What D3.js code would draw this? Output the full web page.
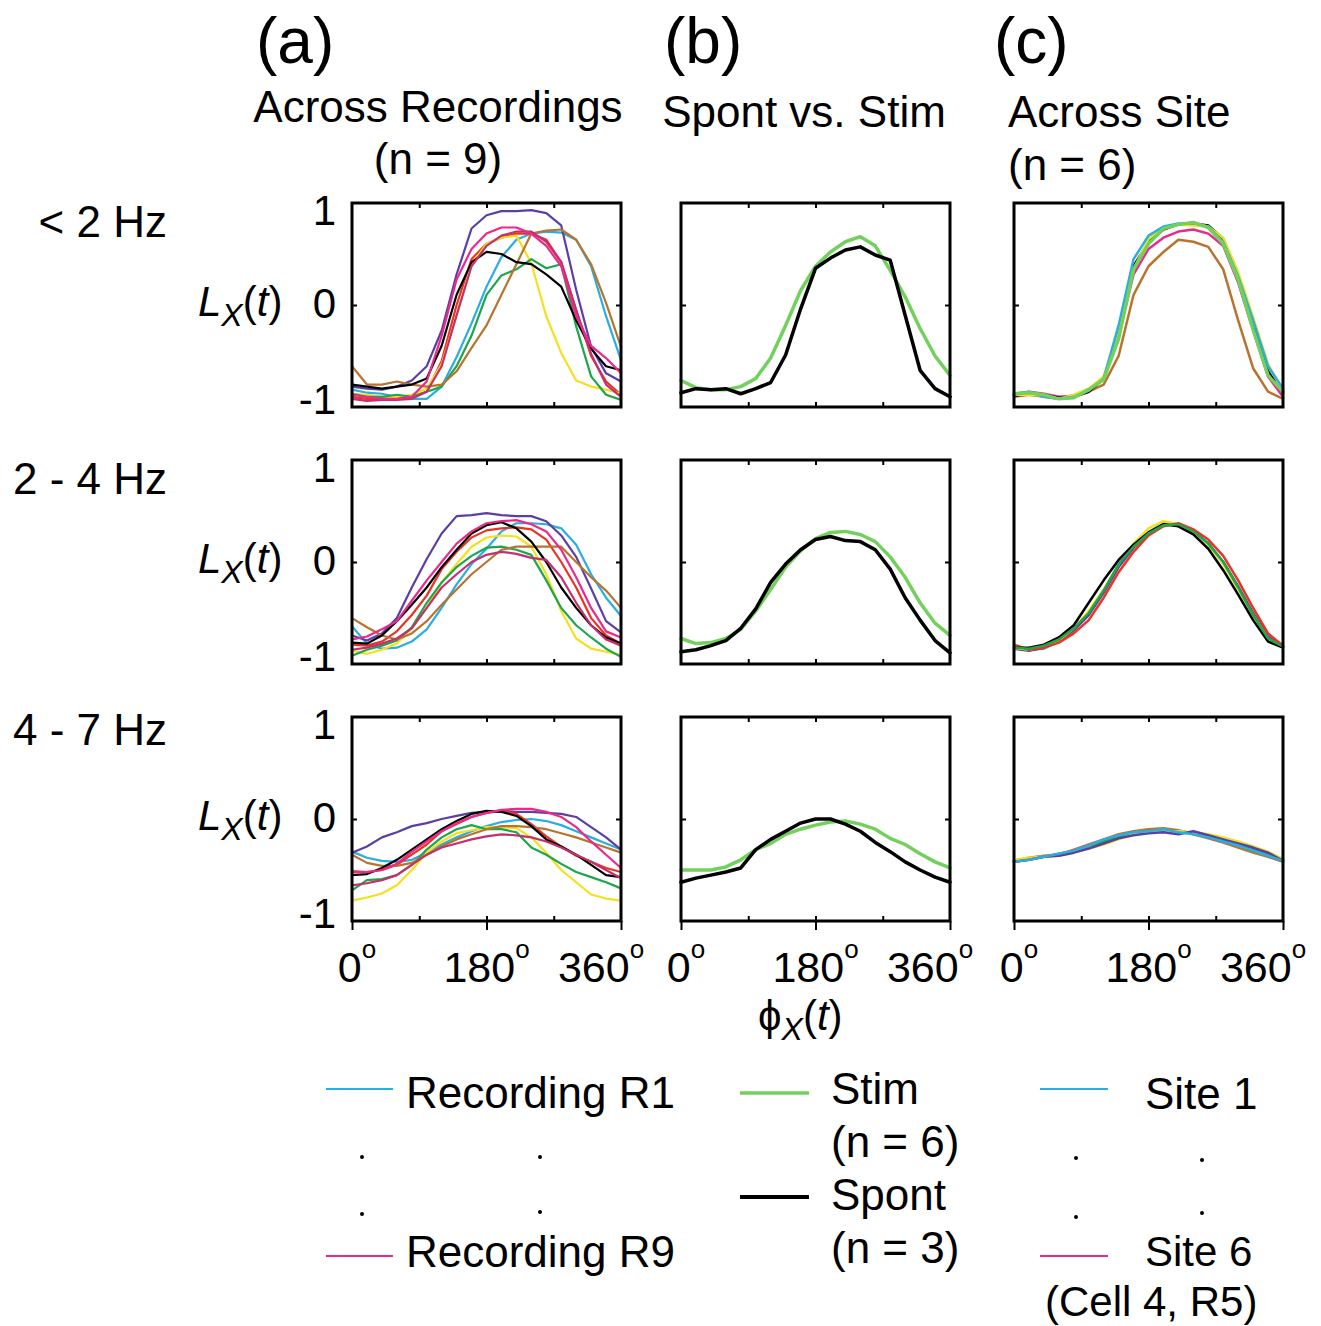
<!DOCTYPE html>
<html lang="en">
<head>
<meta charset="UTF-8">
<title>Phase locking curves</title>
<script src="https://d3js.org/d3.v7.min.js"></script>
<style>
  body { margin: 0; background: #fff; }
  svg { font-family: "Liberation Sans", Arial, Helvetica, sans-serif; }
  .trace { fill: none; stroke-linejoin: round; stroke-linecap: round; }
  .box { fill: none; stroke: #000; stroke-width: 3; }
  .tick line { stroke: #000; stroke-width: 2; }
  .domain { display: none; }
</style>
</head>
<body>
<svg width="1321" height="1326"></svg>
<script>
// phase samples (degrees)
const phase = [0,20,40,60,80,100,120,140,160,180,200,220,240,260,280,300,320,340,360];

const rowLabels = ["< 2 Hz", "2 - 4 Hz", "4 - 7 Hz"];
const colLetters = ["(a)", "(b)", "(c)"];
const xTickLabels = [0, 180, 360];
const yTickLabels = [1, 0, -1];

// (a) across recordings: R1..R9
const recColors = ["#29aee2", "#5a3fa6", "#eb3325", "#f6df1d", "#1da64b", "#b8742e", "#000000", "#c4306f", "#ea2a8b"];
const recA1 = [
  [-0.83,-0.86,-0.87,-0.90,-0.92,-0.92,-0.80,-0.51,-0.18,0.18,0.47,0.64,0.70,0.72,0.71,0.64,0.38,-0.11,-0.54],
  [-0.80,-0.82,-0.83,-0.80,-0.74,-0.60,-0.25,0.30,0.75,0.88,0.92,0.92,0.93,0.90,0.78,0.15,-0.41,-0.67,-0.75],
  [-0.90,-0.92,-0.93,-0.92,-0.90,-0.85,-0.55,0.00,0.45,0.60,0.66,0.70,0.70,0.64,0.42,-0.05,-0.50,-0.75,-0.88],
  [-0.87,-0.88,-0.90,-0.90,-0.88,-0.82,-0.58,-0.10,0.40,0.60,0.66,0.68,0.41,-0.11,-0.47,-0.74,-0.80,-0.83,-0.87],
  [-0.87,-0.90,-0.90,-0.88,-0.90,-0.85,-0.80,-0.60,-0.30,0.10,0.29,0.35,0.45,0.36,0.40,-0.21,-0.70,-0.88,-0.93],
  [-0.60,-0.78,-0.78,-0.75,-0.78,-0.80,-0.78,-0.65,-0.42,-0.20,0.10,0.40,0.70,0.73,0.74,0.64,0.40,0.02,-0.41],
  [-0.78,-0.80,-0.82,-0.80,-0.78,-0.72,-0.40,0.10,0.42,0.52,0.50,0.42,0.40,0.30,0.18,-0.15,-0.43,-0.60,-0.64],
  [-0.92,-0.94,-0.93,-0.93,-0.92,-0.85,-0.60,-0.10,0.38,0.58,0.68,0.72,0.72,0.62,0.42,-0.05,-0.48,-0.78,-0.90],
  [-0.88,-0.90,-0.92,-0.92,-0.90,-0.75,-0.30,0.25,0.55,0.70,0.76,0.76,0.70,0.58,0.38,-0.11,-0.40,-0.52,-0.67]
];
const recA2 = [
  [-0.63,-0.80,-0.85,-0.84,-0.78,-0.66,-0.45,-0.22,-0.02,0.13,0.30,0.38,0.38,0.37,0.33,0.17,-0.12,-0.35,-0.53],
  [-0.72,-0.77,-0.70,-0.55,-0.25,0.03,0.28,0.45,0.46,0.48,0.46,0.45,0.45,0.40,0.26,0.05,-0.26,-0.58,-0.69],
  [-0.81,-0.82,-0.78,-0.68,-0.52,-0.33,-0.07,0.10,0.24,0.31,0.33,0.34,0.32,0.22,0.00,-0.25,-0.55,-0.72,-0.80],
  [-0.87,-0.90,-0.86,-0.80,-0.65,-0.45,-0.20,-0.02,0.15,0.24,0.26,0.25,0.15,-0.12,-0.48,-0.75,-0.85,-0.88,-0.91],
  [-0.92,-0.86,-0.82,-0.77,-0.64,-0.40,-0.20,-0.05,0.06,0.14,0.15,0.12,0.07,-0.18,-0.45,-0.62,-0.74,-0.85,-0.93],
  [-0.55,-0.64,-0.72,-0.76,-0.70,-0.58,-0.42,-0.27,-0.12,0.00,0.12,0.15,0.15,0.15,0.15,0.00,-0.15,-0.28,-0.45],
  [-0.79,-0.80,-0.72,-0.58,-0.42,-0.25,-0.05,0.12,0.28,0.36,0.39,0.33,0.20,0.00,-0.25,-0.45,-0.62,-0.74,-0.80],
  [-0.86,-0.84,-0.80,-0.75,-0.65,-0.45,-0.25,-0.12,0.00,0.07,0.10,0.08,0.04,0.02,-0.15,-0.40,-0.62,-0.76,-0.82],
  [-0.76,-0.73,-0.66,-0.58,-0.38,-0.18,0.00,0.18,0.30,0.38,0.40,0.41,0.37,0.30,0.12,-0.15,-0.45,-0.68,-0.74]
];
const recA3 = [
  [-0.32,-0.38,-0.41,-0.42,-0.40,-0.33,-0.25,-0.18,-0.12,-0.07,-0.03,-0.01,0.00,-0.02,-0.06,-0.12,-0.18,-0.24,-0.30],
  [-0.33,-0.27,-0.18,-0.13,-0.07,-0.04,0.00,0.03,0.06,0.07,0.08,0.07,0.07,0.06,0.05,0.02,-0.08,-0.18,-0.30],
  [-0.51,-0.52,-0.50,-0.45,-0.35,-0.25,-0.12,-0.05,0.02,0.06,0.08,0.05,-0.05,-0.17,-0.27,-0.36,-0.42,-0.48,-0.52],
  [-0.80,-0.77,-0.73,-0.65,-0.50,-0.33,-0.22,-0.14,-0.11,-0.08,-0.08,-0.09,-0.18,-0.33,-0.50,-0.62,-0.74,-0.78,-0.80],
  [-0.70,-0.60,-0.59,-0.55,-0.45,-0.30,-0.18,-0.10,-0.06,-0.10,-0.10,-0.13,-0.28,-0.35,-0.44,-0.52,-0.57,-0.62,-0.68],
  [-0.35,-0.43,-0.46,-0.46,-0.43,-0.35,-0.27,-0.20,-0.15,-0.10,-0.07,-0.07,-0.08,-0.10,-0.14,-0.18,-0.23,-0.28,-0.33],
  [-0.55,-0.54,-0.48,-0.40,-0.30,-0.20,-0.10,-0.02,0.05,0.08,0.07,0.03,-0.07,-0.20,-0.27,-0.35,-0.45,-0.55,-0.57],
  [-0.65,-0.63,-0.60,-0.55,-0.45,-0.35,-0.28,-0.24,-0.20,-0.17,-0.15,-0.16,-0.18,-0.22,-0.28,-0.35,-0.42,-0.50,-0.58],
  [-0.52,-0.52,-0.50,-0.44,-0.32,-0.22,-0.12,-0.04,0.02,0.06,0.09,0.10,0.10,0.07,0.02,-0.08,-0.22,-0.35,-0.48]
];

// (b) spontaneous vs stimulated: Stim, Spont
const condColors = ["#72d05d", "#000000"];
const condB1 = [
  [-0.74,-0.81,-0.83,-0.83,-0.80,-0.72,-0.52,-0.20,0.14,0.38,0.52,0.62,0.67,0.58,0.34,0.08,-0.23,-0.50,-0.69],
  [-0.86,-0.82,-0.83,-0.82,-0.87,-0.82,-0.76,-0.49,-0.04,0.36,0.46,0.54,0.57,0.49,0.44,-0.10,-0.64,-0.82,-0.90]
];
const condB2 = [
  [-0.75,-0.80,-0.79,-0.75,-0.66,-0.48,-0.27,-0.05,0.11,0.23,0.29,0.30,0.27,0.20,0.05,-0.15,-0.40,-0.60,-0.72],
  [-0.88,-0.86,-0.82,-0.77,-0.65,-0.46,-0.20,-0.02,0.12,0.22,0.25,0.21,0.20,0.12,-0.07,-0.35,-0.57,-0.77,-0.89]
];
const condB3 = [
  [-0.50,-0.50,-0.50,-0.47,-0.40,-0.30,-0.24,-0.15,-0.10,-0.06,-0.03,-0.02,-0.05,-0.10,-0.19,-0.25,-0.34,-0.42,-0.48],
  [-0.62,-0.58,-0.55,-0.52,-0.48,-0.30,-0.20,-0.12,-0.04,0.00,0.00,-0.05,-0.12,-0.23,-0.32,-0.42,-0.50,-0.57,-0.62]
];

// (c) across sites (drawing order bottom -> top)
const siteColors1 = ["#b8742e", "#ea2a8b", "#000000", "#f6df1d", "#29aee2", "#72d05d"];
const siteC1 = [
  [-0.90,-0.88,-0.90,-0.92,-0.90,-0.85,-0.78,-0.50,0.10,0.38,0.52,0.64,0.62,0.57,0.35,-0.15,-0.62,-0.85,-0.92],
  [-0.87,-0.85,-0.87,-0.90,-0.89,-0.84,-0.73,-0.30,0.30,0.55,0.66,0.72,0.74,0.70,0.58,0.22,-0.25,-0.70,-0.90],
  [-0.89,-0.87,-0.88,-0.91,-0.90,-0.85,-0.72,-0.28,0.38,0.62,0.74,0.79,0.80,0.78,0.65,0.28,-0.20,-0.65,-0.86],
  [-0.88,-0.88,-0.89,-0.92,-0.88,-0.82,-0.70,-0.28,0.35,0.65,0.76,0.79,0.78,0.77,0.66,0.32,-0.12,-0.58,-0.85],
  [-0.88,-0.85,-0.90,-0.92,-0.90,-0.84,-0.72,-0.20,0.45,0.68,0.77,0.80,0.80,0.77,0.62,0.28,-0.15,-0.60,-0.82],
  [-0.87,-0.86,-0.88,-0.92,-0.91,-0.83,-0.73,-0.33,0.35,0.60,0.75,0.79,0.81,0.76,0.60,0.25,-0.24,-0.69,-0.85]
];
const siteColors2 = ["#29aee2", "#5a3fa6", "#f6df1d", "#eb3325", "#000000", "#1da64b"];
const siteC2 = [
  [-0.84,-0.86,-0.85,-0.78,-0.66,-0.50,-0.29,-0.04,0.14,0.29,0.38,0.36,0.31,0.18,0.00,-0.25,-0.51,-0.74,-0.83],
  [-0.85,-0.87,-0.84,-0.78,-0.67,-0.52,-0.30,-0.05,0.14,0.28,0.37,0.37,0.30,0.18,0.00,-0.24,-0.50,-0.73,-0.83],
  [-0.84,-0.86,-0.83,-0.77,-0.65,-0.48,-0.27,-0.02,0.18,0.33,0.40,0.37,0.30,0.17,-0.02,-0.27,-0.52,-0.75,-0.84],
  [-0.81,-0.86,-0.84,-0.79,-0.70,-0.57,-0.35,-0.10,0.10,0.26,0.35,0.38,0.32,0.22,0.06,-0.18,-0.45,-0.70,-0.82],
  [-0.84,-0.84,-0.81,-0.74,-0.62,-0.40,-0.18,0.02,0.17,0.29,0.37,0.35,0.27,0.13,-0.08,-0.32,-0.57,-0.78,-0.84],
  [-0.84,-0.85,-0.82,-0.76,-0.65,-0.50,-0.28,-0.02,0.15,0.28,0.36,0.37,0.30,0.18,0.00,-0.25,-0.52,-0.75,-0.83]
];
const siteColors3 = ["#ea2a8b", "#1da64b", "#b8742e", "#f6df1d", "#5a3fa6", "#29aee2"];
const siteC3 = [
  [-0.42,-0.40,-0.37,-0.35,-0.32,-0.27,-0.22,-0.17,-0.14,-0.12,-0.11,-0.12,-0.14,-0.17,-0.21,-0.25,-0.30,-0.36,-0.41],
  [-0.41,-0.39,-0.37,-0.34,-0.31,-0.27,-0.22,-0.18,-0.14,-0.12,-0.11,-0.12,-0.14,-0.17,-0.21,-0.25,-0.30,-0.35,-0.40],
  [-0.41,-0.38,-0.36,-0.35,-0.30,-0.25,-0.20,-0.15,-0.12,-0.10,-0.09,-0.11,-0.15,-0.19,-0.23,-0.28,-0.33,-0.37,-0.42],
  [-0.40,-0.38,-0.37,-0.36,-0.33,-0.29,-0.25,-0.20,-0.15,-0.13,-0.12,-0.12,-0.13,-0.15,-0.18,-0.22,-0.27,-0.32,-0.39],
  [-0.42,-0.40,-0.37,-0.36,-0.33,-0.29,-0.24,-0.19,-0.16,-0.14,-0.13,-0.15,-0.12,-0.16,-0.20,-0.24,-0.28,-0.33,-0.41],
  [-0.42,-0.40,-0.37,-0.34,-0.31,-0.26,-0.20,-0.16,-0.13,-0.12,-0.10,-0.13,-0.15,-0.18,-0.22,-0.26,-0.31,-0.36,-0.41]
];

const panels = [
  [ {series: recA1, colors: recColors, width: 2.2},
    {series: recA2, colors: recColors, width: 2.2},
    {series: recA3, colors: recColors, width: 2.2} ],
  [ {series: condB1, colors: condColors, width: 3.5},
    {series: condB2, colors: condColors, width: 3.5},
    {series: condB3, colors: condColors, width: 3.5} ],
  [ {series: siteC1, colors: siteColors1, width: 2.5},
    {series: siteC2, colors: siteColors2, width: 2.5},
    {series: siteC3, colors: siteColors3, width: 2.5} ]
];

const svg = d3.select("svg");
const colX = [352, 681, 1014], rowY = [203, 460, 717];
const W = 269, H = 204;

const x = d3.scaleLinear().domain([0, 360]).range([0, W]);
const y = d3.scaleLinear().domain([-1, 1]).range([H, 0]);
const line = d3.line().x((d, i) => x(phase[i])).y(d => y(d));

panels.forEach((col, c) => {
  col.forEach((p, r) => {
    const g = svg.append("g").attr("transform", `translate(${colX[c]},${rowY[r]})`);

    g.selectAll("path.trace")
      .data(p.series)
      .join("path")
      .attr("class", "trace")
      .attr("d", line)
      .attr("stroke", (d, i) => p.colors[i])
      .attr("stroke-width", (d, i) => (c === 2 && r === 0 && i === 5) ? 3.5 : p.width);

    // inner ticks on all four sides
    g.append("g").attr("transform", `translate(0,${H})`)
      .call(d3.axisBottom(x).tickValues([90, 180, 270]).tickSize(-5).tickFormat(""));
    g.append("g")
      .call(d3.axisTop(x).tickValues([90, 180, 270]).tickSize(-5).tickFormat(""));
    g.append("g")
      .call(d3.axisLeft(y).tickValues([0]).tickSize(-5).tickFormat(""));
    g.append("g").attr("transform", `translate(${W},0)`)
      .call(d3.axisRight(y).tickValues([0]).tickSize(-5).tickFormat(""));

    g.append("rect").attr("class", "box").attr("width", W).attr("height", H);

    if (r === 2) {
      g.append("g").attr("transform", `translate(0,${H})`)
        .call(d3.axisBottom(x).tickValues(xTickLabels).tickSize(9).tickFormat(""));
      const shift = {0: 5, 180: 0, 360: -20};
      const t = g.selectAll("text.xl")
        .data(xTickLabels)
        .join("text")
        .attr("class", "xl")
        .attr("x", d => x(d) + shift[d])
        .attr("y", H + 61)
        .attr("text-anchor", "middle")
        .attr("font-size", 43)
        .text(d => d);
      t.append("tspan").attr("font-size", 26).attr("dy", -24).text("o");
    }

    if (c === 0) {
      const off = {"1": 22, "0": 13, "-1": 7};
      g.selectAll("text.yl")
        .data(yTickLabels)
        .join("text")
        .attr("class", "yl")
        .attr("x", -16)
        .attr("y", d => y(d) + off[d])
        .attr("text-anchor", "end")
        .attr("font-size", 42)
        .text(d => d);

      const lx = g.append("text")
        .attr("x", -154)
        .attr("y", y(0) + 11)
        .attr("font-size", 42);
      lx.append("tspan").attr("font-style", "italic").text("L");
      lx.append("tspan").attr("font-style", "italic").attr("font-size", 32).attr("dy", 10).text("X");
      lx.append("tspan").attr("dy", -10).text("(");
      lx.append("tspan").attr("font-style", "italic").text("t");
      lx.append("tspan").text(")");

      svg.append("text")
        .attr("x", 167)
        .attr("y", rowY[r] + (r === 2 ? 28 : 34))
        .attr("text-anchor", "end")
        .attr("font-size", 44)
        .text(rowLabels[r]);
    }
  });
});

// column headers
const letterX = [256, 664, 994];
colLetters.forEach((t, i) => {
  svg.append("text").attr("x", letterX[i]).attr("y", 63).attr("font-size", 64).text(t);
});
const hdr = [
  {t: "Across Recordings", x: 438, y: 122, a: "middle"},
  {t: "(n = 9)", x: 438, y: 174, a: "middle"},
  {t: "Spont vs. Stim", x: 804, y: 127, a: "middle"},
  {t: "Across Site", x: 1008, y: 127, a: "start"},
  {t: "(n = 6)", x: 1008, y: 180, a: "start"}
];
svg.selectAll("text.hdr").data(hdr).join("text")
  .attr("class", "hdr")
  .attr("x", d => d.x).attr("y", d => d.y)
  .attr("text-anchor", d => d.a)
  .attr("font-size", 44)
  .text(d => d.t);

// x axis label
const phi = svg.append("text").attr("x", 758).attr("y", 1030).attr("font-size", 42);
phi.append("tspan").text("ϕ");
phi.append("tspan").attr("font-style", "italic").attr("font-size", 32).attr("dy", 10).text("X");
phi.append("tspan").attr("dy", -10).text("(");
phi.append("tspan").attr("font-style", "italic").text("t");
phi.append("tspan").text(")");

// legends
const legLines = [
  {x1: 326, x2: 393, y: 1089, c: recColors[0], w: 2},
  {x1: 326, x2: 393, y: 1256, c: recColors[8], w: 2},
  {x1: 740, x2: 809, y: 1093, c: condColors[0], w: 3.5},
  {x1: 740, x2: 809, y: 1197, c: condColors[1], w: 4},
  {x1: 1040, x2: 1108, y: 1089, c: recColors[0], w: 2},
  {x1: 1040, x2: 1108, y: 1256, c: recColors[8], w: 2}
];
svg.selectAll("line.leg").data(legLines).join("line")
  .attr("class", "leg")
  .attr("x1", d => d.x1).attr("x2", d => d.x2)
  .attr("y1", d => d.y).attr("y2", d => d.y)
  .attr("stroke", d => d.c).attr("stroke-width", d => d.w);

const legText = [
  {t: "Recording R1", x: 406, y: 1108, s: 44},
  {t: "Recording R9", x: 406, y: 1267, s: 44},
  {t: "Stim", x: 831, y: 1104, s: 44},
  {t: "(n = 6)", x: 831, y: 1157, s: 44},
  {t: "Spont", x: 831, y: 1210, s: 44},
  {t: "(n = 3)", x: 831, y: 1263, s: 44},
  {t: "Site 1", x: 1145, y: 1109, s: 44},
  {t: "Site 6", x: 1145, y: 1266, s: 42},
  {t: "(Cell 4, R5)", x: 1045, y: 1316, s: 42}
];
svg.selectAll("text.leg").data(legText).join("text")
  .attr("class", "leg")
  .attr("x", d => d.x).attr("y", d => d.y)
  .attr("font-size", d => d.s)
  .text(d => d.t);

const dots = [[362,1157],[540,1157],[362,1214],[540,1212],[1076,1158],[1202,1160],[1076,1217],[1202,1213]];
svg.selectAll("circle.dot").data(dots).join("circle")
  .attr("class", "dot")
  .attr("cx", d => d[0]).attr("cy", d => d[1]).attr("r", 2);
</script>
</body>
</html>
